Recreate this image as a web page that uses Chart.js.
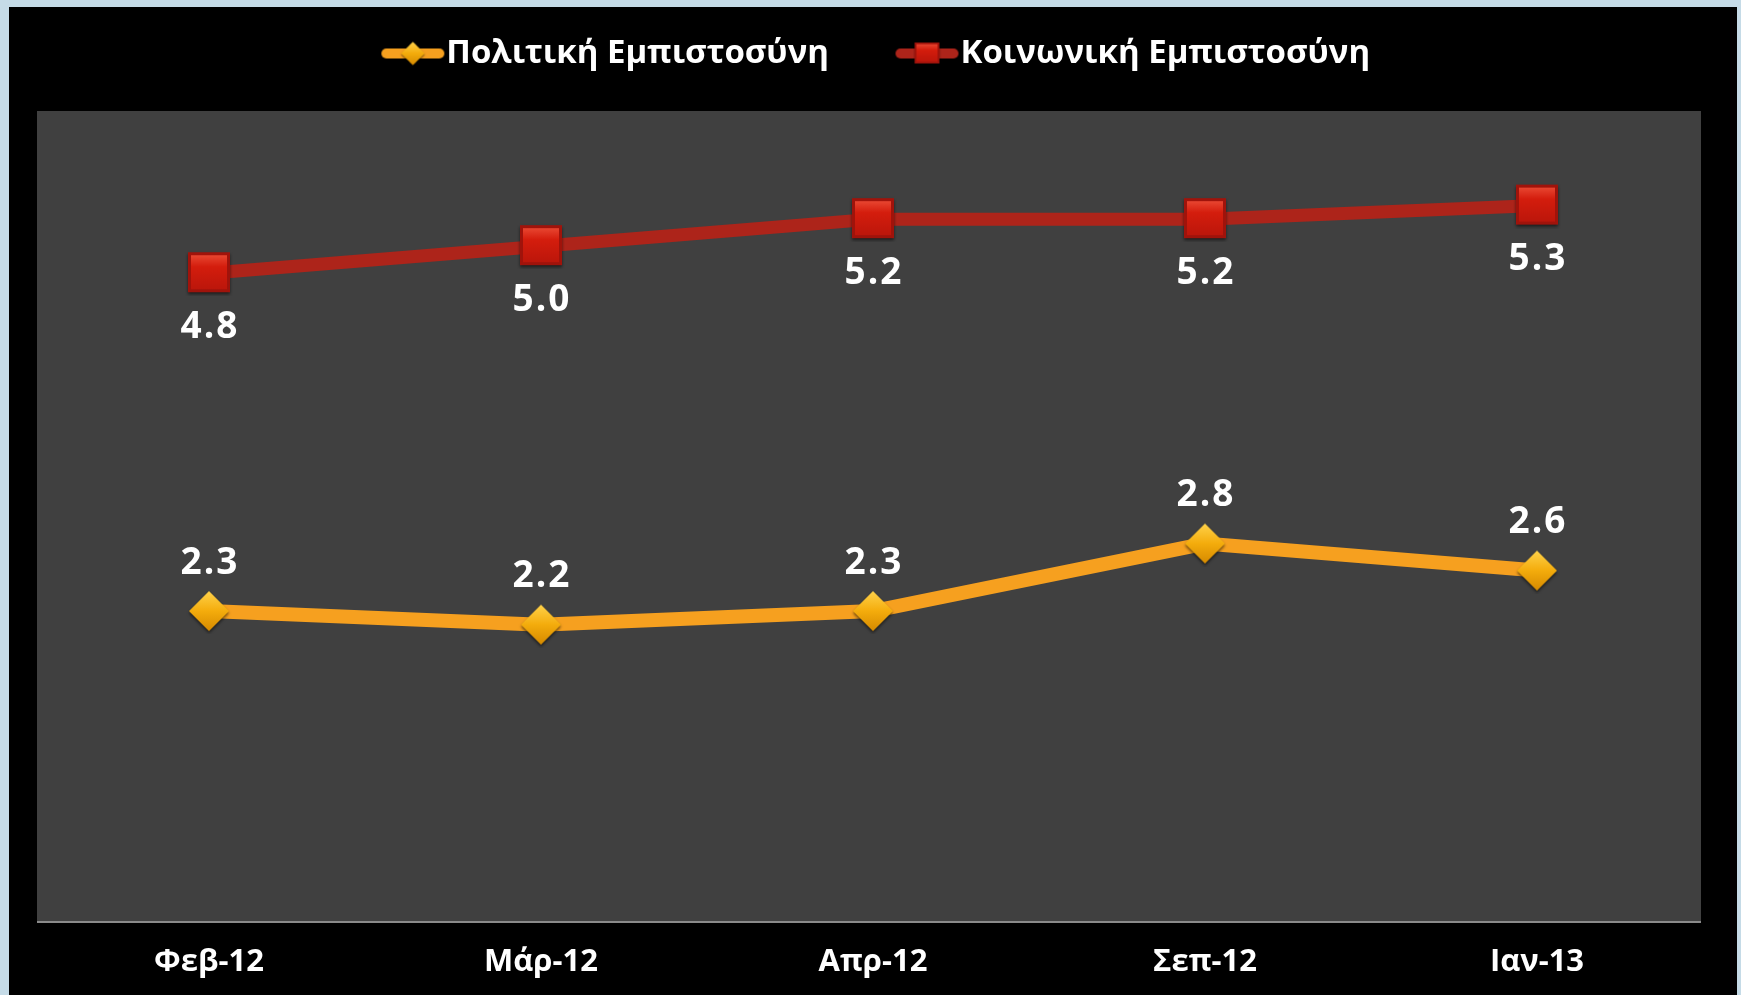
<!DOCTYPE html>
<html>
<head>
<meta charset="utf-8">
<script src="https://cdn.jsdelivr.net/npm/chart.js@4/dist/chart.umd.min.js"></script>
<style>
html, body { margin: 0; padding: 0; width: 1741px; height: 995px; overflow: hidden; background: #c5dbe7; }
#panel { position: absolute; left: 9px; top: 7px; width: 1728px; height: 988px; background: #000; }
</style>
</head>
<body>
<div id="panel"><canvas id="trustChart"></canvas></div>
<script>
// data
var months = ['Φεβ-12', 'Μάρ-12', 'Απρ-12', 'Σεπ-12', 'Ιαν-13'];
var politicalTrust = [2.3, 2.2, 2.3, 2.8, 2.6];
var socialTrust = [4.8, 5.0, 5.2, 5.2, 5.3];
var seriesNames = ['Πολιτική Εμπιστοσύνη', 'Κοινωνική Εμπιστοσύνη'];

var FONT = '"Open Sans", "DejaVu Sans", sans-serif';

// marker pictures (beveled look like the office chart)
function squareMarker() {
    var c = document.createElement('canvas');
    c.width = 48; c.height = 46;
    var g = c.getContext('2d');
    g.shadowColor = 'rgba(0,0,0,0.55)';
    g.shadowBlur = 3;
    g.shadowOffsetY = 2;
    g.fillStyle = '#a0130b';
    g.fillRect(3, 2, 42, 40);
    g.shadowColor = 'transparent';
    var grad = g.createLinearGradient(0, 4, 0, 40);
    grad.addColorStop(0, '#ea4a34');
    grad.addColorStop(0.35, '#d41d0d');
    grad.addColorStop(1, '#bb160b');
    g.fillStyle = grad;
    g.fillRect(6, 5, 36, 34);
    return c;
}

function diamondMarker() {
    var c = document.createElement('canvas');
    c.width = 46; c.height = 46;
    var g = c.getContext('2d');
    g.shadowColor = 'rgba(0,0,0,0.55)';
    g.shadowBlur = 3;
    g.shadowOffsetY = 2;
    var grad = g.createLinearGradient(0, 3, 0, 43);
    grad.addColorStop(0, '#ffd24a');
    grad.addColorStop(0.5, '#f4ac0c');
    grad.addColorStop(1, '#d68a00');
    g.fillStyle = grad;
    g.beginPath();
    g.moveTo(3, 23);
    g.lineTo(23, 3);
    g.lineTo(43, 23);
    g.lineTo(23, 43);
    g.closePath();
    g.fill();
    return c;
}

// legend icon: thick line with the marker in the middle
function legendIcon(color, marker, mw, mh) {
    var c = document.createElement('canvas');
    c.width = 136; c.height = 32;
    var g = c.getContext('2d');
    g.strokeStyle = color;
    g.lineWidth = 10;
    g.lineCap = 'round';
    g.beginPath();
    g.moveTo(77, 16);
    g.lineTo(130, 16);
    g.stroke();
    g.drawImage(marker, 103.5 - mw / 2, 16 - mh / 2, mw, mh);
    return c;
}

var diamondImg = diamondMarker();
var squareImg = squareMarker();
var orangeColor = '#f6a01f';
var redColor = '#ad241a';

var plotBackground = {
    id: 'plotBackground',
    beforeDraw: function (chart) {
        var a = chart.chartArea;
        var ctx = chart.ctx;
        ctx.save();
        ctx.fillStyle = '#404040';
        ctx.fillRect(a.left - 6, a.top, a.right - a.left + 4, a.bottom - a.top);
        ctx.fillStyle = '#8a8a8a';
        ctx.fillRect(a.left - 6, a.bottom - 1, a.right - a.left + 4, 2);
        ctx.restore();
    }
};

var valueLabels = {
    id: 'valueLabels',
    afterDatasetsDraw: function (chart) {
        var ctx = chart.ctx;
        ctx.save();
        ctx.font = 'bold 37px ' + FONT;
        ctx.letterSpacing = '2px';
        ctx.fillStyle = '#ffffff';
        ctx.textAlign = 'center';
        ctx.textBaseline = 'middle';
        chart.data.datasets.forEach(function (ds, i) {
            var meta = chart.getDatasetMeta(i);
            meta.data.forEach(function (pt, j) {
                var dy = ds.labelBelow ? 54 : -48;
                ctx.fillText(ds.data[j].toFixed(1), pt.x + 1, pt.y + dy);
            });
        });
        ctx.restore();
    }
};

// taller legend box, and centre the visible part of the legend row
var legendHeight = {
    id: 'legendHeight',
    beforeInit: function (chart) {
        var fit = chart.legend.fit;
        chart.legend.fit = function () {
            fit.call(this);
            this.height = 84;
        };
    },
    afterLayout: function (chart) {
        chart.legend.left -= 58;
    }
};

var chart = new Chart(document.getElementById('trustChart'), {
    type: 'line',
    data: {
        labels: months,
        datasets: [{
            label: seriesNames[0],
            data: politicalTrust,
            borderColor: orangeColor,
            backgroundColor: orangeColor,
            borderWidth: 14,
            pointStyle: diamondImg,
            pointRadius: 20,
            tension: 0,
            labelBelow: false,
            legendIcon: legendIcon(orangeColor, diamondImg, 27, 27)
        }, {
            label: seriesNames[1],
            data: socialTrust,
            borderColor: redColor,
            backgroundColor: redColor,
            borderWidth: 13,
            pointStyle: squareImg,
            pointRadius: 20,
            tension: 0,
            labelBelow: true,
            legendIcon: legendIcon(redColor, squareImg, 28, 24)
        }]
    },
    options: {
        responsive: true,
        maintainAspectRatio: false,
        animation: false,
        layout: {
            padding: { left: 30, right: 23, top: 20, bottom: 0 }
        },
        plugins: {
            tooltip: { enabled: false },
            legend: {
                position: 'top',
                labels: {
                    color: '#ffffff',
                    font: { family: FONT, size: 33, weight: 'bold' },
                    usePointStyle: true,
                    pointStyleWidth: 105,
                    padding: 10,
                    generateLabels: function (chart) {
                        return chart.data.datasets.map(function (ds, i) {
                            return {
                                text: ds.label,
                                pointStyle: ds.legendIcon,
                                fontColor: '#ffffff',
                                fillStyle: ds.borderColor,
                                strokeStyle: ds.borderColor,
                                lineWidth: 0,
                                hidden: false,
                                datasetIndex: i
                            };
                        });
                    }
                }
            }
        },
        scales: {
            x: {
                offset: true,
                grid: { display: false, drawTicks: false },
                border: { display: false },
                ticks: {
                    color: '#ffffff',
                    font: { family: FONT, size: 31, weight: 'bold' },
                    padding: 22,
                    maxRotation: 0
                },
                afterFit: function (scale) {
                    scale.height = 73;
                }
            },
            y: {
                display: false,
                min: 0,
                max: 6
            }
        }
    },
    plugins: [plotBackground, valueLabels, legendHeight]
});
</script>
</body>
</html>
